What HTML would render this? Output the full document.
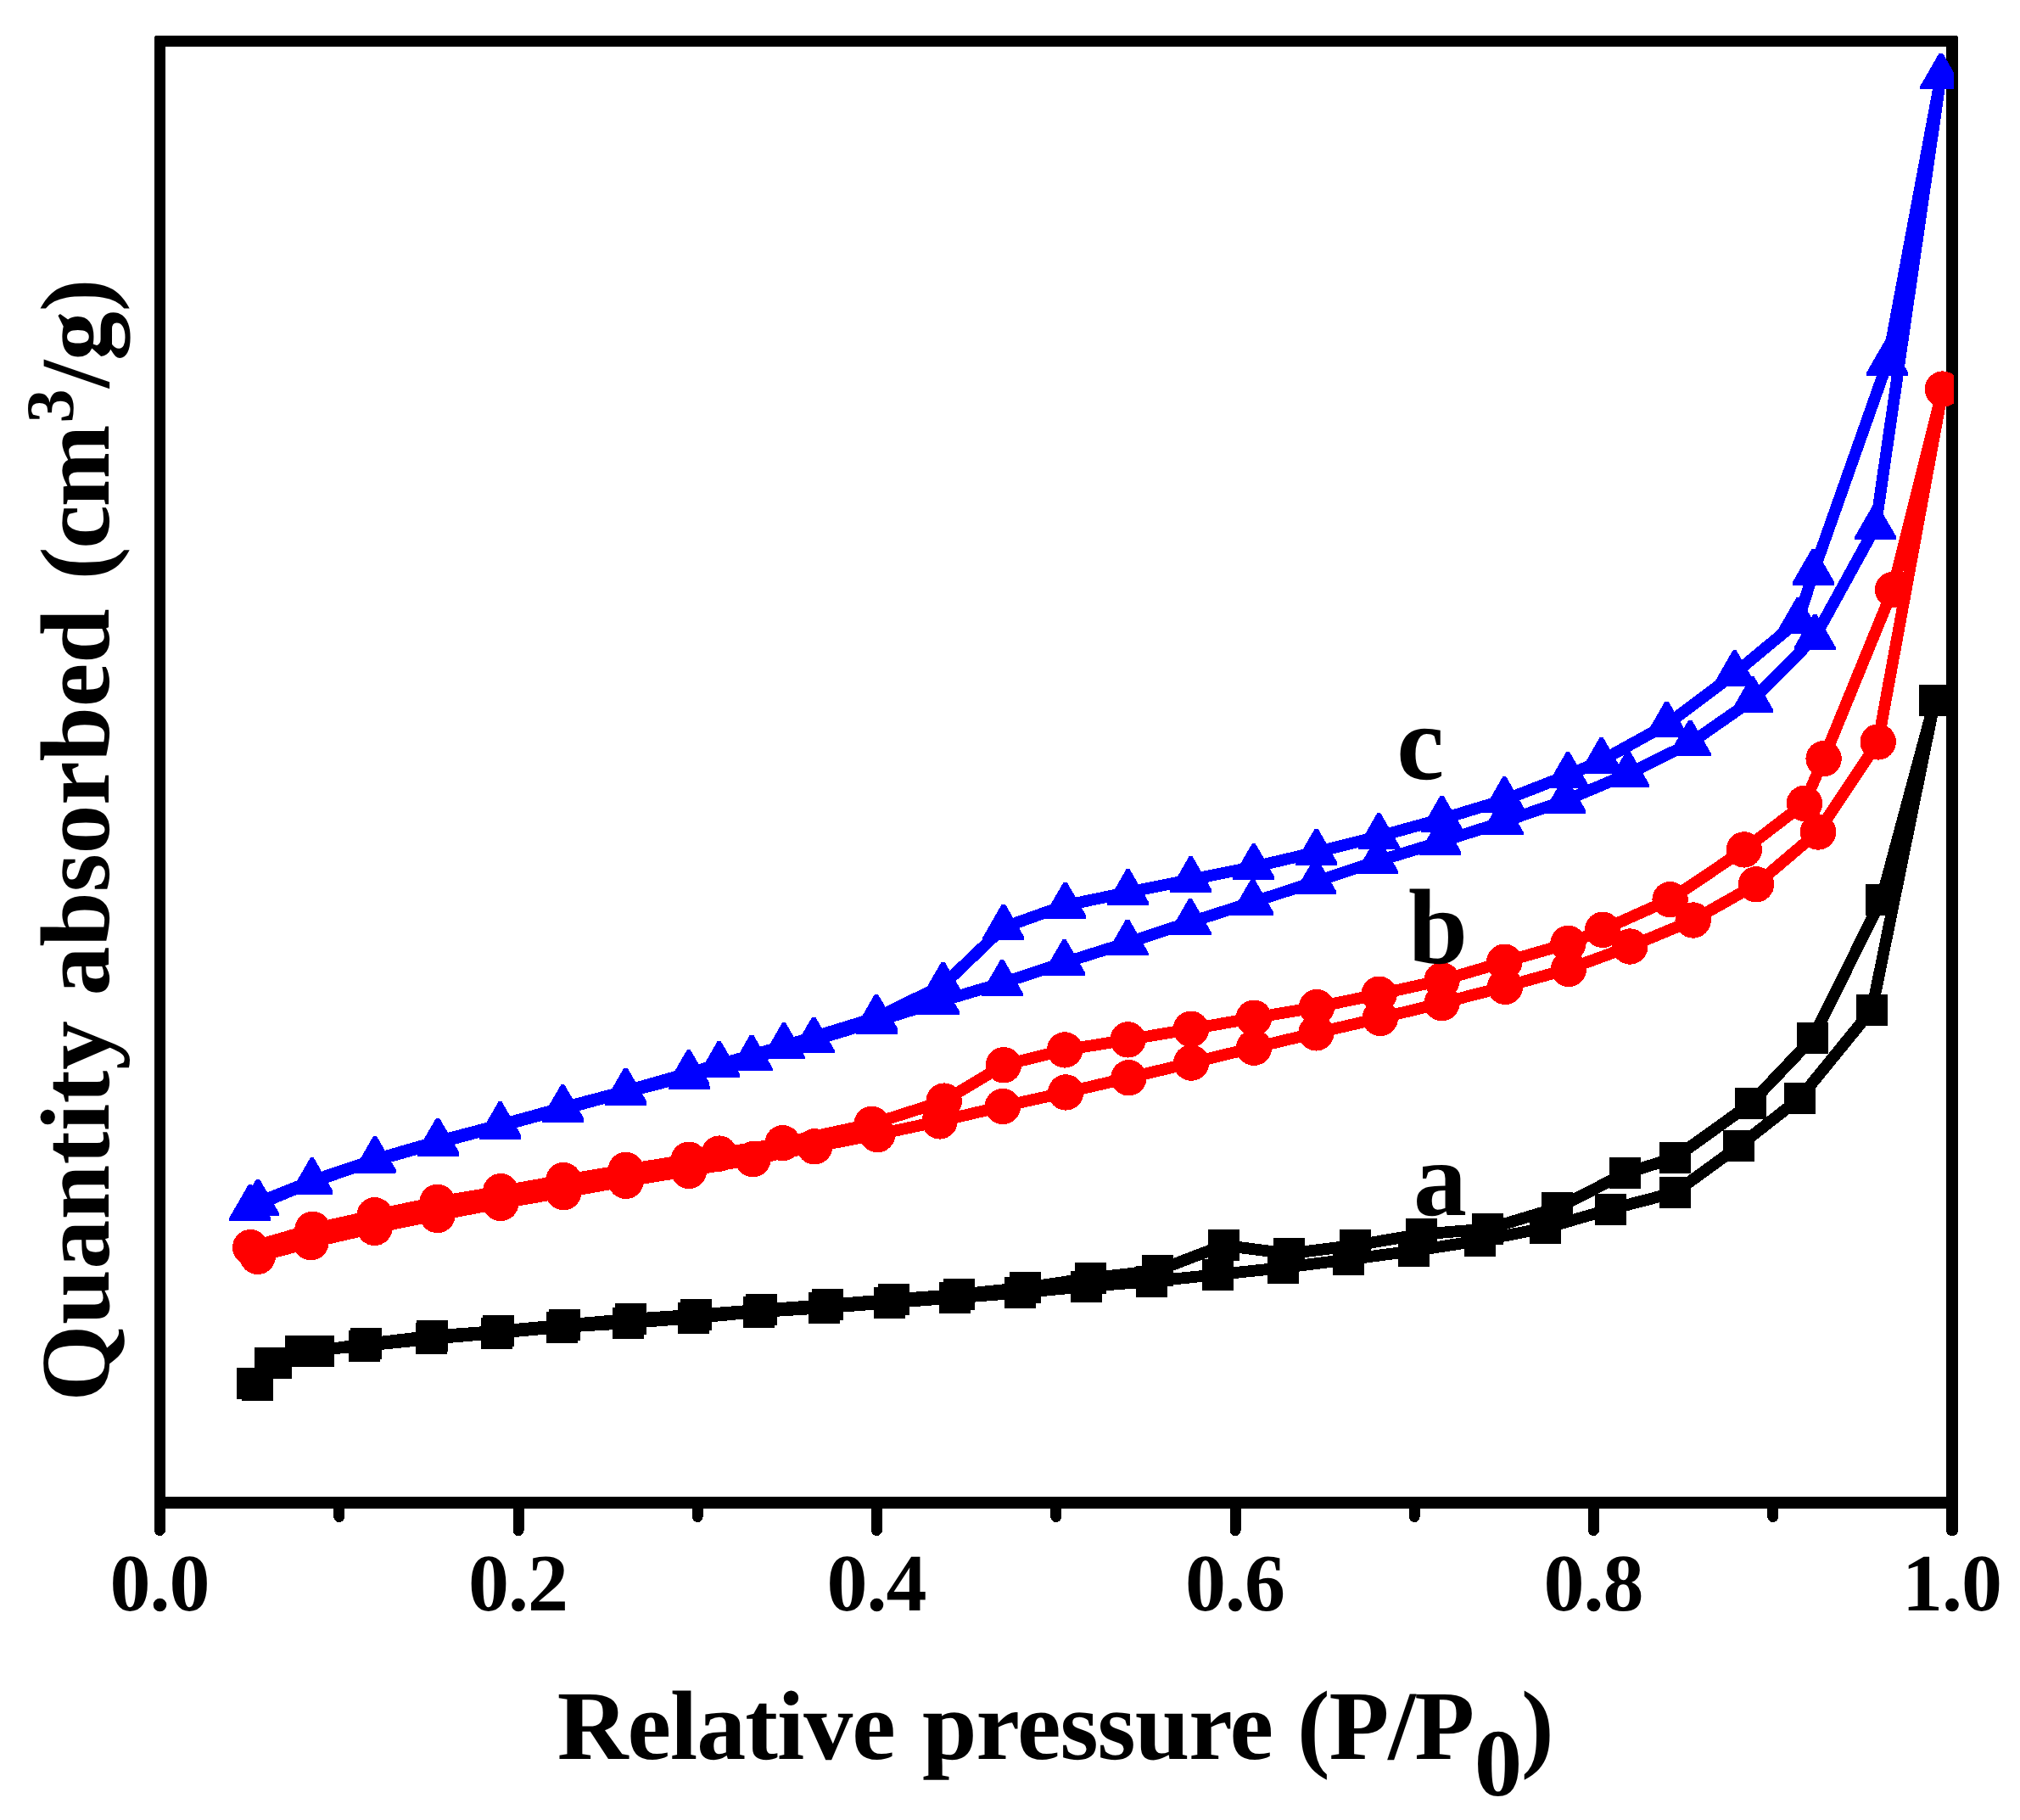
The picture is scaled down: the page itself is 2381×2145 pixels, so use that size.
<!DOCTYPE html>
<html><head><meta charset="utf-8"><title>Isotherms</title>
<style>html,body{margin:0;padding:0;background:#fff}svg{display:block}</style></head>
<body>
<svg width="2381" height="2145" viewBox="0 0 2381 2145" shape-rendering="crispEdges" text-rendering="geometricPrecision">
<rect width="2381" height="2145" fill="#fff"/>
<defs><clipPath id="c"><rect x="189" y="48" width="2114" height="1723"/></clipPath></defs>
<path fill="#000" fill-rule="evenodd" d="M185,42 H2305 Q2308,42 2308,45 V1778 H182 V45 Q182,42 185,42 Z M195,55 V1764 H2294 V55 Z"/>
<g fill="none" stroke="#000" stroke-width="13" stroke-linecap="round">
<line x1="188.5" y1="1771" x2="188.5" y2="1803.5"/>
<line x1="399.8" y1="1771" x2="399.8" y2="1787.5"/>
<line x1="611" y1="1771" x2="611" y2="1803.5"/>
<line x1="822.2" y1="1771" x2="822.2" y2="1787.5"/>
<line x1="1033.5" y1="1771" x2="1033.5" y2="1803.5"/>
<line x1="1244.8" y1="1771" x2="1244.8" y2="1787.5"/>
<line x1="1456" y1="1771" x2="1456" y2="1803.5"/>
<line x1="1667.2" y1="1771" x2="1667.2" y2="1787.5"/>
<line x1="1878.5" y1="1771" x2="1878.5" y2="1803.5"/>
<line x1="2089.8" y1="1771" x2="2089.8" y2="1787.5"/>
<line x1="2301" y1="1771" x2="2301" y2="1803.5" stroke-width="14"/>
</g>
<g clip-path="url(#c)">
<polyline fill="none" stroke="#000" stroke-width="13.8" stroke-linejoin="round" stroke-linecap="round" points="297.5,1630.4 318.4,1606 354.6,1592.8 429.7,1586 508.6,1577.9 585.6,1571 662.5,1564 740.4,1559.2 817,1553.2 894.5,1546.1 971.7,1541.3 1048.7,1535.4 1125.6,1529.5 1202.5,1523.5 1280.4,1516.2 1357.5,1510.1 1435.4,1502.1 1512.4,1494.1 1589.6,1484.3 1666.5,1474.2 1744.4,1462 1821.4,1447.3 1898.5,1425.1 1974.5,1405.4 2049.5,1350.9 2121.4,1294.5 2206.5,1190 2280.6,825.6"/>
<polyline fill="none" stroke="#000" stroke-width="13.8" stroke-linejoin="round" stroke-linecap="round" points="2280.6,825.6 2217.4,1060.7 2136.4,1223.9 2063.3,1300.8 1974.5,1364.4 1915.8,1382.8 1835.3,1423.8 1753.3,1448.4 1675.4,1454.6 1597.6,1467.7 1519.1,1477.5 1442,1467.7 1364.3,1497.4 1285.4,1506.4 1208.5,1517.6 1130.6,1525.6 1053.4,1531.5 975.3,1537.8 897.5,1543.7 820.2,1549.6 743.3,1554.7 665.5,1561.5 587.4,1568.7 509.6,1574.6 431.2,1583.8 375.6,1592 325.4,1606.5 303.5,1632.4"/>
<rect x="279" y="1611.9" width="37" height="37" fill="#000"/><rect x="299.9" y="1587.5" width="37" height="37" fill="#000"/><rect x="336.1" y="1574.3" width="37" height="37" fill="#000"/><rect x="411.2" y="1567.5" width="37" height="37" fill="#000"/><rect x="490.1" y="1559.4" width="37" height="37" fill="#000"/><rect x="567.1" y="1552.5" width="37" height="37" fill="#000"/><rect x="644" y="1545.5" width="37" height="37" fill="#000"/><rect x="721.9" y="1540.7" width="37" height="37" fill="#000"/><rect x="798.5" y="1534.7" width="37" height="37" fill="#000"/><rect x="876" y="1527.6" width="37" height="37" fill="#000"/><rect x="953.2" y="1522.8" width="37" height="37" fill="#000"/><rect x="1030.2" y="1516.9" width="37" height="37" fill="#000"/><rect x="1107.1" y="1511" width="37" height="37" fill="#000"/><rect x="1184" y="1505" width="37" height="37" fill="#000"/><rect x="1261.9" y="1497.7" width="37" height="37" fill="#000"/><rect x="1339" y="1491.6" width="37" height="37" fill="#000"/><rect x="1416.9" y="1483.6" width="37" height="37" fill="#000"/><rect x="1493.9" y="1475.6" width="37" height="37" fill="#000"/><rect x="1571.1" y="1465.8" width="37" height="37" fill="#000"/><rect x="1648" y="1455.7" width="37" height="37" fill="#000"/><rect x="1725.9" y="1443.5" width="37" height="37" fill="#000"/><rect x="1802.9" y="1428.8" width="37" height="37" fill="#000"/><rect x="1880" y="1406.6" width="37" height="37" fill="#000"/><rect x="1956" y="1386.9" width="37" height="37" fill="#000"/><rect x="2031" y="1332.4" width="37" height="37" fill="#000"/><rect x="2102.9" y="1276" width="37" height="37" fill="#000"/><rect x="2188" y="1171.5" width="37" height="37" fill="#000"/><rect x="2262.1" y="807.1" width="37" height="37" fill="#000"/>
<rect x="2262.1" y="807.1" width="37" height="37" fill="#000"/><rect x="2198.9" y="1042.2" width="37" height="37" fill="#000"/><rect x="2117.9" y="1205.4" width="37" height="37" fill="#000"/><rect x="2044.8" y="1282.3" width="37" height="37" fill="#000"/><rect x="1956" y="1345.9" width="37" height="37" fill="#000"/><rect x="1897.3" y="1364.3" width="37" height="37" fill="#000"/><rect x="1816.8" y="1405.3" width="37" height="37" fill="#000"/><rect x="1734.8" y="1429.9" width="37" height="37" fill="#000"/><rect x="1656.9" y="1436.1" width="37" height="37" fill="#000"/><rect x="1579.1" y="1449.2" width="37" height="37" fill="#000"/><rect x="1500.6" y="1459" width="37" height="37" fill="#000"/><rect x="1423.5" y="1449.2" width="37" height="37" fill="#000"/><rect x="1345.8" y="1478.9" width="37" height="37" fill="#000"/><rect x="1266.9" y="1487.9" width="37" height="37" fill="#000"/><rect x="1190" y="1499.1" width="37" height="37" fill="#000"/><rect x="1112.1" y="1507.1" width="37" height="37" fill="#000"/><rect x="1034.9" y="1513" width="37" height="37" fill="#000"/><rect x="956.8" y="1519.3" width="37" height="37" fill="#000"/><rect x="879" y="1525.2" width="37" height="37" fill="#000"/><rect x="801.7" y="1531.1" width="37" height="37" fill="#000"/><rect x="724.8" y="1536.2" width="37" height="37" fill="#000"/><rect x="647" y="1543" width="37" height="37" fill="#000"/><rect x="568.9" y="1550.2" width="37" height="37" fill="#000"/><rect x="491.1" y="1556.1" width="37" height="37" fill="#000"/><rect x="412.7" y="1565.3" width="37" height="37" fill="#000"/><rect x="357.1" y="1573.5" width="37" height="37" fill="#000"/><rect x="306.9" y="1588" width="37" height="37" fill="#000"/><rect x="285" y="1613.9" width="37" height="37" fill="#000"/>
<polyline fill="none" stroke="#ff0000" stroke-width="13.8" stroke-linejoin="round" stroke-linecap="round" points="303.7,1480.9 366.5,1464.2 441.5,1446.9 515.6,1432 590.2,1418 664.3,1405.2 737.7,1391.9 811.9,1379.9 887.4,1366.2 960.2,1351.3 1034.2,1337.1 1107.6,1321.4 1181.9,1304 1256.3,1287.4 1330.4,1270.3 1404.2,1252.6 1478.1,1234.7 1551.5,1217.3 1626.8,1199.9 1699.6,1182.1 1774.2,1162.8 1849,1142 1921.3,1115.5 1995.7,1084.5 2070,1042.3 2143,980.5 2213.7,874.4 2290,458.6"/>
<polyline fill="none" stroke="#ff0000" stroke-width="13.8" stroke-linejoin="round" stroke-linecap="round" points="2290,458.6 2231,695 2149.6,894.2 2126.9,946.9 2055.8,1001.4 1968.6,1060.2 1889.1,1095.8 1848.4,1112 1773.3,1133.7 1699.6,1155.3 1625.6,1171.7 1552,1187 1478,1199.7 1403.9,1212.8 1329.5,1225.4 1255.1,1237.4 1183,1255.2 1112.7,1297.6 1027.5,1324.8 922.6,1347.2 847.7,1359.6 811.9,1366.7 737.7,1378.9 664.3,1391.1 590.2,1404.2 515.6,1416.8 441.7,1432.2 368.5,1448.8 295.2,1470.2"/>
<polyline fill="none" stroke="#ff0000" stroke-width="8" points="299.4,1475.6 367.5,1456.5 441.6,1439.6 515.6,1424.4 590.2,1411.1 664.3,1398.2 737.7,1385.4 811.9,1373.3"/>
<circle cx="303.7" cy="1480.9" r="21.2" fill="#ff0000"/><circle cx="366.5" cy="1464.2" r="21.2" fill="#ff0000"/><circle cx="441.5" cy="1446.9" r="21.2" fill="#ff0000"/><circle cx="515.6" cy="1432" r="21.2" fill="#ff0000"/><circle cx="590.2" cy="1418" r="21.2" fill="#ff0000"/><circle cx="664.3" cy="1405.2" r="21.2" fill="#ff0000"/><circle cx="737.7" cy="1391.9" r="21.2" fill="#ff0000"/><circle cx="811.9" cy="1379.9" r="21.2" fill="#ff0000"/><circle cx="887.4" cy="1366.2" r="21.2" fill="#ff0000"/><circle cx="960.2" cy="1351.3" r="21.2" fill="#ff0000"/><circle cx="1034.2" cy="1337.1" r="21.2" fill="#ff0000"/><circle cx="1107.6" cy="1321.4" r="21.2" fill="#ff0000"/><circle cx="1181.9" cy="1304" r="21.2" fill="#ff0000"/><circle cx="1256.3" cy="1287.4" r="21.2" fill="#ff0000"/><circle cx="1330.4" cy="1270.3" r="21.2" fill="#ff0000"/><circle cx="1404.2" cy="1252.6" r="21.2" fill="#ff0000"/><circle cx="1478.1" cy="1234.7" r="21.2" fill="#ff0000"/><circle cx="1551.5" cy="1217.3" r="21.2" fill="#ff0000"/><circle cx="1626.8" cy="1199.9" r="21.2" fill="#ff0000"/><circle cx="1699.6" cy="1182.1" r="21.2" fill="#ff0000"/><circle cx="1774.2" cy="1162.8" r="21.2" fill="#ff0000"/><circle cx="1849" cy="1142" r="21.2" fill="#ff0000"/><circle cx="1921.3" cy="1115.5" r="21.2" fill="#ff0000"/><circle cx="1995.7" cy="1084.5" r="21.2" fill="#ff0000"/><circle cx="2070" cy="1042.3" r="21.2" fill="#ff0000"/><circle cx="2143" cy="980.5" r="21.2" fill="#ff0000"/><circle cx="2213.7" cy="874.4" r="21.2" fill="#ff0000"/><circle cx="2290" cy="458.6" r="21.2" fill="#ff0000"/>
<circle cx="2290" cy="458.6" r="21.2" fill="#ff0000"/><circle cx="2231" cy="695" r="21.2" fill="#ff0000"/><circle cx="2149.6" cy="894.2" r="21.2" fill="#ff0000"/><circle cx="2126.9" cy="946.9" r="21.2" fill="#ff0000"/><circle cx="2055.8" cy="1001.4" r="21.2" fill="#ff0000"/><circle cx="1968.6" cy="1060.2" r="21.2" fill="#ff0000"/><circle cx="1889.1" cy="1095.8" r="21.2" fill="#ff0000"/><circle cx="1848.4" cy="1112" r="21.2" fill="#ff0000"/><circle cx="1773.3" cy="1133.7" r="21.2" fill="#ff0000"/><circle cx="1699.6" cy="1155.3" r="21.2" fill="#ff0000"/><circle cx="1625.6" cy="1171.7" r="21.2" fill="#ff0000"/><circle cx="1552" cy="1187" r="21.2" fill="#ff0000"/><circle cx="1478" cy="1199.7" r="21.2" fill="#ff0000"/><circle cx="1403.9" cy="1212.8" r="21.2" fill="#ff0000"/><circle cx="1329.5" cy="1225.4" r="21.2" fill="#ff0000"/><circle cx="1255.1" cy="1237.4" r="21.2" fill="#ff0000"/><circle cx="1183" cy="1255.2" r="21.2" fill="#ff0000"/><circle cx="1112.7" cy="1297.6" r="21.2" fill="#ff0000"/><circle cx="1027.5" cy="1324.8" r="21.2" fill="#ff0000"/><circle cx="922.6" cy="1347.2" r="21.2" fill="#ff0000"/><circle cx="847.7" cy="1359.6" r="21.2" fill="#ff0000"/><circle cx="811.9" cy="1366.7" r="21.2" fill="#ff0000"/><circle cx="737.7" cy="1378.9" r="21.2" fill="#ff0000"/><circle cx="664.3" cy="1391.1" r="21.2" fill="#ff0000"/><circle cx="590.2" cy="1404.2" r="21.2" fill="#ff0000"/><circle cx="515.6" cy="1416.8" r="21.2" fill="#ff0000"/><circle cx="441.7" cy="1432.2" r="21.2" fill="#ff0000"/><circle cx="368.5" cy="1448.8" r="21.2" fill="#ff0000"/><circle cx="295.2" cy="1470.2" r="21.2" fill="#ff0000"/>
<polyline fill="none" stroke="#0000ff" stroke-width="13.8" stroke-linejoin="round" stroke-linecap="round" points="294.9,1423.4 367.8,1393 441.5,1367.9 516,1347.1 589.3,1327.2 663.2,1307.2 737.2,1287.2 812,1268.1 886,1247 959.2,1226 1033,1203.5 1106.7,1180.7 1181.2,1158.6 1254.5,1134.5 1329,1111 1403,1086.7 1476.6,1063.3 1550.8,1039 1623.6,1014.9 1697.8,992.3 1771.2,968.9 1844.8,943.6 1919.1,912.1 1992.2,876 2065.7,824.8 2139.2,751 2210.7,620.9 2287.8,89.9"/>
<polyline fill="none" stroke="#0000ff" stroke-width="13.8" stroke-linejoin="round" stroke-linecap="round" points="2287.8,89.9 2224.7,427.2 2137.6,674.1 2119.5,731.6 2044.6,793.8 1964.6,853.9 1887.6,896.5 1848.1,913.7 1773.3,942.8 1699.6,965.2 1625.3,985.7 1551.6,1004.3 1477.8,1021.7 1403.6,1036.7 1329.6,1051.7 1255.6,1067.1 1182.9,1093 1111.6,1161.1 1033,1199.3 924,1232.8 847.7,1254.5 811.8,1264.7 737.5,1285.9 663.3,1305.6 589.5,1325.8 516,1345.1 442,1366.5 367.8,1391.8 304,1417.1"/>
<polygon points="292.9,1396 296.9,1396 319.4,1435.1 319.4,1438.8 270.4,1438.8 270.4,1435.1" fill="#0000ff"/><polygon points="365.8,1365.6 369.8,1365.6 392.3,1404.7 392.3,1408.4 343.3,1408.4 343.3,1404.7" fill="#0000ff"/><polygon points="439.5,1340.5 443.5,1340.5 466,1379.6 466,1383.3 417,1383.3 417,1379.6" fill="#0000ff"/><polygon points="514,1319.7 518,1319.7 540.5,1358.8 540.5,1362.5 491.5,1362.5 491.5,1358.8" fill="#0000ff"/><polygon points="587.3,1299.8 591.3,1299.8 613.8,1338.9 613.8,1342.6 564.8,1342.6 564.8,1338.9" fill="#0000ff"/><polygon points="661.2,1279.8 665.2,1279.8 687.7,1318.9 687.7,1322.6 638.7,1322.6 638.7,1318.9" fill="#0000ff"/><polygon points="735.2,1259.8 739.2,1259.8 761.7,1298.9 761.7,1302.6 712.7,1302.6 712.7,1298.9" fill="#0000ff"/><polygon points="810,1240.7 814,1240.7 836.5,1279.8 836.5,1283.5 787.5,1283.5 787.5,1279.8" fill="#0000ff"/><polygon points="884,1219.6 888,1219.6 910.5,1258.7 910.5,1262.4 861.5,1262.4 861.5,1258.7" fill="#0000ff"/><polygon points="957.2,1198.6 961.2,1198.6 983.7,1237.7 983.7,1241.4 934.7,1241.4 934.7,1237.7" fill="#0000ff"/><polygon points="1031,1176.1 1035,1176.1 1057.5,1215.2 1057.5,1218.9 1008.5,1218.9 1008.5,1215.2" fill="#0000ff"/><polygon points="1104.7,1153.3 1108.7,1153.3 1131.2,1192.4 1131.2,1196.1 1082.2,1196.1 1082.2,1192.4" fill="#0000ff"/><polygon points="1179.2,1131.2 1183.2,1131.2 1205.7,1170.3 1205.7,1174 1156.7,1174 1156.7,1170.3" fill="#0000ff"/><polygon points="1252.5,1107.1 1256.5,1107.1 1279,1146.2 1279,1149.9 1230,1149.9 1230,1146.2" fill="#0000ff"/><polygon points="1327,1083.6 1331,1083.6 1353.5,1122.7 1353.5,1126.4 1304.5,1126.4 1304.5,1122.7" fill="#0000ff"/><polygon points="1401,1059.3 1405,1059.3 1427.5,1098.4 1427.5,1102.1 1378.5,1102.1 1378.5,1098.4" fill="#0000ff"/><polygon points="1474.6,1035.9 1478.6,1035.9 1501.1,1075 1501.1,1078.7 1452.1,1078.7 1452.1,1075" fill="#0000ff"/><polygon points="1548.8,1011.6 1552.8,1011.6 1575.3,1050.7 1575.3,1054.4 1526.3,1054.4 1526.3,1050.7" fill="#0000ff"/><polygon points="1621.6,987.5 1625.6,987.5 1648.1,1026.6 1648.1,1030.3 1599.1,1030.3 1599.1,1026.6" fill="#0000ff"/><polygon points="1695.8,964.9 1699.8,964.9 1722.3,1004 1722.3,1007.7 1673.3,1007.7 1673.3,1004" fill="#0000ff"/><polygon points="1769.2,941.5 1773.2,941.5 1795.7,980.6 1795.7,984.3 1746.7,984.3 1746.7,980.6" fill="#0000ff"/><polygon points="1842.8,916.2 1846.8,916.2 1869.3,955.3 1869.3,959 1820.3,959 1820.3,955.3" fill="#0000ff"/><polygon points="1917.1,884.7 1921.1,884.7 1943.6,923.8 1943.6,927.5 1894.6,927.5 1894.6,923.8" fill="#0000ff"/><polygon points="1990.2,848.6 1994.2,848.6 2016.7,887.7 2016.7,891.4 1967.7,891.4 1967.7,887.7" fill="#0000ff"/><polygon points="2063.7,797.4 2067.7,797.4 2090.2,836.5 2090.2,840.2 2041.2,840.2 2041.2,836.5" fill="#0000ff"/><polygon points="2137.2,723.6 2141.2,723.6 2163.7,762.7 2163.7,766.4 2114.7,766.4 2114.7,762.7" fill="#0000ff"/><polygon points="2208.7,593.5 2212.7,593.5 2235.2,632.6 2235.2,636.3 2186.2,636.3 2186.2,632.6" fill="#0000ff"/><polygon points="2285.8,62.5 2289.8,62.5 2312.3,101.6 2312.3,105.3 2263.3,105.3 2263.3,101.6" fill="#0000ff"/>
<polygon points="2285.8,62.5 2289.8,62.5 2312.3,101.6 2312.3,105.3 2263.3,105.3 2263.3,101.6" fill="#0000ff"/><polygon points="2222.7,399.8 2226.7,399.8 2249.2,438.9 2249.2,442.6 2200.2,442.6 2200.2,438.9" fill="#0000ff"/><polygon points="2135.6,646.7 2139.6,646.7 2162.1,685.8 2162.1,689.5 2113.1,689.5 2113.1,685.8" fill="#0000ff"/><polygon points="2117.5,704.2 2121.5,704.2 2144,743.3 2144,747 2095,747 2095,743.3" fill="#0000ff"/><polygon points="2042.6,766.4 2046.6,766.4 2069.1,805.5 2069.1,809.2 2020.1,809.2 2020.1,805.5" fill="#0000ff"/><polygon points="1962.6,826.5 1966.6,826.5 1989.1,865.6 1989.1,869.3 1940.1,869.3 1940.1,865.6" fill="#0000ff"/><polygon points="1885.6,869.1 1889.6,869.1 1912.1,908.2 1912.1,911.9 1863.1,911.9 1863.1,908.2" fill="#0000ff"/><polygon points="1846.1,886.3 1850.1,886.3 1872.6,925.4 1872.6,929.1 1823.6,929.1 1823.6,925.4" fill="#0000ff"/><polygon points="1771.3,915.4 1775.3,915.4 1797.8,954.5 1797.8,958.2 1748.8,958.2 1748.8,954.5" fill="#0000ff"/><polygon points="1697.6,937.8 1701.6,937.8 1724.1,976.9 1724.1,980.6 1675.1,980.6 1675.1,976.9" fill="#0000ff"/><polygon points="1623.3,958.3 1627.3,958.3 1649.8,997.4 1649.8,1001.1 1600.8,1001.1 1600.8,997.4" fill="#0000ff"/><polygon points="1549.6,976.9 1553.6,976.9 1576.1,1016 1576.1,1019.7 1527.1,1019.7 1527.1,1016" fill="#0000ff"/><polygon points="1475.8,994.3 1479.8,994.3 1502.3,1033.4 1502.3,1037.1 1453.3,1037.1 1453.3,1033.4" fill="#0000ff"/><polygon points="1401.6,1009.3 1405.6,1009.3 1428.1,1048.4 1428.1,1052.1 1379.1,1052.1 1379.1,1048.4" fill="#0000ff"/><polygon points="1327.6,1024.3 1331.6,1024.3 1354.1,1063.4 1354.1,1067.1 1305.1,1067.1 1305.1,1063.4" fill="#0000ff"/><polygon points="1253.6,1039.7 1257.6,1039.7 1280.1,1078.8 1280.1,1082.5 1231.1,1082.5 1231.1,1078.8" fill="#0000ff"/><polygon points="1180.9,1065.6 1184.9,1065.6 1207.4,1104.7 1207.4,1108.4 1158.4,1108.4 1158.4,1104.7" fill="#0000ff"/><polygon points="1109.6,1133.7 1113.6,1133.7 1136.1,1172.8 1136.1,1176.5 1087.1,1176.5 1087.1,1172.8" fill="#0000ff"/><polygon points="1031,1171.9 1035,1171.9 1057.5,1211 1057.5,1214.7 1008.5,1214.7 1008.5,1211" fill="#0000ff"/><polygon points="922,1205.4 926,1205.4 948.5,1244.5 948.5,1248.2 899.5,1248.2 899.5,1244.5" fill="#0000ff"/><polygon points="845.7,1227.1 849.7,1227.1 872.2,1266.2 872.2,1269.9 823.2,1269.9 823.2,1266.2" fill="#0000ff"/><polygon points="809.8,1237.3 813.8,1237.3 836.3,1276.4 836.3,1280.1 787.3,1280.1 787.3,1276.4" fill="#0000ff"/><polygon points="735.5,1258.5 739.5,1258.5 762,1297.6 762,1301.3 713,1301.3 713,1297.6" fill="#0000ff"/><polygon points="661.3,1278.2 665.3,1278.2 687.8,1317.3 687.8,1321 638.8,1321 638.8,1317.3" fill="#0000ff"/><polygon points="587.5,1298.4 591.5,1298.4 614,1337.5 614,1341.2 565,1341.2 565,1337.5" fill="#0000ff"/><polygon points="514,1317.7 518,1317.7 540.5,1356.8 540.5,1360.5 491.5,1360.5 491.5,1356.8" fill="#0000ff"/><polygon points="440,1339.1 444,1339.1 466.5,1378.2 466.5,1381.9 417.5,1381.9 417.5,1378.2" fill="#0000ff"/><polygon points="365.8,1364.4 369.8,1364.4 392.3,1403.5 392.3,1407.2 343.3,1407.2 343.3,1403.5" fill="#0000ff"/><polygon points="302,1389.7 306,1389.7 328.5,1428.8 328.5,1432.5 279.5,1432.5 279.5,1428.8" fill="#0000ff"/>
</g>
<g font-family="'Liberation Serif', 'Times New Roman', serif" font-weight="bold" fill="#000">
<text x="188" y="1898" font-size="96" text-anchor="middle" letter-spacing="-1">0.0</text>
<text x="610.5" y="1898" font-size="96" text-anchor="middle" letter-spacing="-1">0.2</text>
<text x="1033" y="1898" font-size="96" text-anchor="middle" letter-spacing="-1">0.4</text>
<text x="1455.5" y="1898" font-size="96" text-anchor="middle" letter-spacing="-1">0.6</text>
<text x="1878" y="1898" font-size="96" text-anchor="middle" letter-spacing="-1">0.8</text>
<text x="2300.5" y="1898" font-size="96" text-anchor="middle" letter-spacing="-1">1.0</text>
<text y="2072.8" font-size="116"><tspan x="656.7" letter-spacing="-0.97">Relative</tspan> <tspan x="1087.1" letter-spacing="-1.01">pressure</tspan> <tspan x="1529" letter-spacing="-1.13">(P/P</tspan><tspan x="1737.7" y="2116.4" font-size="113">0</tspan><tspan x="1793" y="2072.8">)</tspan></text>
<text transform="translate(128.3,0) rotate(-90)" y="0" font-size="116"><tspan x="-1651.7" letter-spacing="0.57">Quantity</tspan> <tspan x="-1173.4" letter-spacing="-0.24">absorbed</tspan> <tspan x="-683.2" letter-spacing="-2.1">(cm</tspan><tspan x="-498.5" y="-42.6" font-size="80">3</tspan><tspan x="-456.9" y="0" letter-spacing="-0.35">/g)</tspan></text>
<text x="1666" y="1431.5" font-size="126">a</text>
<text x="1659.9" y="1135.3" font-size="126">b</text>
<text x="1646.2" y="917.6" font-size="126">c</text>
</g>
</svg>
</body></html>
